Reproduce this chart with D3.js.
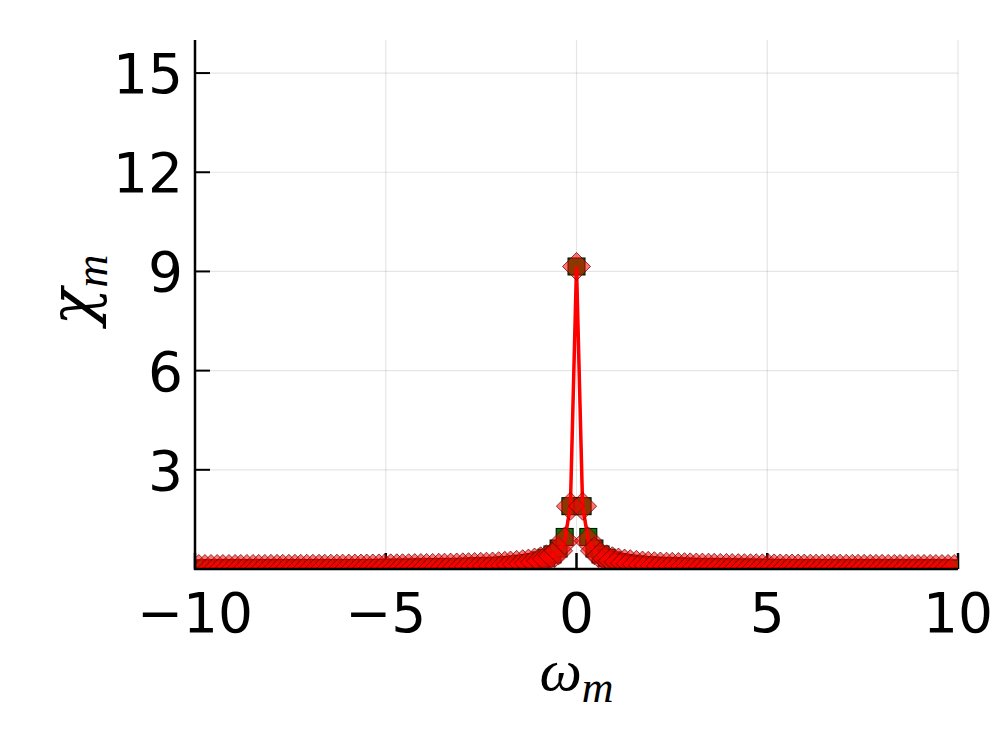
<!DOCTYPE html>
<html><head><meta charset="utf-8">
<script src="https://cdn.jsdelivr.net/npm/d3@7"></script>
<style>body{margin:0;background:#fff}svg{display:block}</style>
</head><body>
<svg id="c" width="997" height="747"></svg>
<script>
// Matsubara frequencies (m = 0 .. 63); negative side mirrors these
const omegaPos = [0,0.16,0.31,0.47,0.63,0.79,0.94,1.10,1.26,1.41,1.57,1.73,1.88,2.04,2.20,2.36,2.51,2.67,2.83,2.98,3.14,3.30,3.46,3.61,3.77,3.93,4.08,4.24,4.40,4.56,4.71,4.87,5.03,5.18,5.34,5.50,5.65,5.81,5.97,6.13,6.28,6.44,6.60,6.75,6.91,7.07,7.23,7.38,7.54,7.70,7.85,8.01,8.17,8.33,8.48,8.64,8.80,8.95,9.11,9.27,9.42,9.58,9.74,9.90];
const chiGreenPos = [9.15,1.90,0.97,0.62,0.44,0.34,0.26,0.21,0.18,0.16,0.14,0.12,0.11,0.10,0.09,0.085,0.08,0.075,0.07,0.065,0.06,0.057,0.054,0.051,0.048,0.046,0.044,0.042,0.040,0.038,0.036,0.035,0.034,0.032,0.031,0.030,0.029,0.028,0.027,0.026,0.025,0.025,0.024,0.023,0.023,0.022,0.021,0.021,0.020,0.020,0.019,0.019,0.018,0.018,0.017,0.017,0.017,0.016,0.016,0.016,0.015,0.015,0.015,0.014];
const chiRedPos = [9.15,1.90,0.85,0.55,0.40,0.31,0.25,0.21,0.18,0.16,0.14,0.12,0.11,0.10,0.09,0.085,0.08,0.075,0.07,0.065,0.06,0.057,0.054,0.051,0.048,0.046,0.044,0.042,0.040,0.038,0.036,0.035,0.034,0.032,0.031,0.030,0.029,0.028,0.027,0.026,0.025,0.025,0.024,0.023,0.023,0.022,0.021,0.021,0.020,0.020,0.019,0.019,0.018,0.018,0.017,0.017,0.017,0.016,0.016,0.016,0.015,0.015,0.015,0.014];
const xTicks = [-10,-5,0,5,10];
const xTickLabels = ["\u221210","\u22125","0","5","10"];
const yTicks = [3,6,9,12,15];
const yTickLabels = ["3","6","9","12","15"];

function mirror(xs, ys){
  const out=[];
  for(let i=xs.length-1;i>0;i--) out.push([-xs[i], ys[i]]);
  for(let i=0;i<xs.length;i++) out.push([xs[i], ys[i]]);
  return out;
}
const green = mirror(omegaPos, chiGreenPos);
const red = mirror(omegaPos, chiRedPos);

const L=195, R=958, T=40, B=569;
const svg=d3.select("#c");
const x=d3.scaleLinear().domain([-10,10]).range([L,R]);
const y=d3.scaleLinear().domain([0,16]).range([B,T]);

svg.append("defs").append("clipPath").attr("id","clip")
  .append("rect").attr("x",L).attr("y",T).attr("width",R-L).attr("height",B-T);

// grid
const g=svg.append("g");
g.selectAll(".gx").data(xTicks).join("line")
  .attr("x1",d=>x(d)).attr("x2",d=>x(d)).attr("y1",T).attr("y2",B)
  .attr("stroke","#000").attr("stroke-opacity",0.1).attr("stroke-width",1.2);
g.selectAll(".gy").data(yTicks).join("line")
  .attr("y1",d=>y(d)).attr("y2",d=>y(d)).attr("x1",L).attr("x2",R)
  .attr("stroke","#000").attr("stroke-opacity",0.1).attr("stroke-width",1.2);

// ticks
g.selectAll(".tx").data(xTicks).join("line")
  .attr("x1",d=>x(d)).attr("x2",d=>x(d)).attr("y1",B).attr("y2",B-16)
  .attr("stroke","#000").attr("stroke-width",2.5);
g.selectAll(".ty").data(yTicks).join("line")
  .attr("y1",d=>y(d)).attr("y2",d=>y(d)).attr("x1",L).attr("x2",L+15)
  .attr("stroke","#000").attr("stroke-width",2);

// series
const plot=svg.append("g").attr("clip-path","url(#clip)");
const line=d3.line().x(d=>x(d[0])).y(d=>y(d[1]));
plot.append("path").datum(green).attr("d",line).attr("fill","none")
  .attr("stroke","#000").attr("stroke-width",2);
const sq=8.5;
plot.selectAll(".sq").data(green).join("rect")
  .attr("x",d=>x(d[0])-sq).attr("y",d=>y(d[1])-sq).attr("width",2*sq).attr("height",2*sq)
  .attr("fill","#007a00").attr("stroke","#000").attr("stroke-width",1);
plot.append("path").datum(red).attr("d",line).attr("fill","none")
  .attr("stroke","#ff0000").attr("stroke-width",3.5);
const dm=14;
plot.selectAll(".dm").data(red).join("path")
  .attr("d",d=>{const cx=x(d[0]),cy=y(d[1]);return `M${cx},${cy-dm}L${cx+dm},${cy}L${cx},${cy+dm}L${cx-dm},${cy}Z`;})
  .attr("fill","#ff0000").attr("fill-opacity",0.55)
  .attr("stroke","#6b0000").attr("stroke-opacity",0.75).attr("stroke-width",1);

// axis lines
svg.append("line").attr("x1",L).attr("x2",L).attr("y1",T).attr("y2",B+1)
  .attr("stroke","#000").attr("stroke-width",2.5);
svg.append("line").attr("x1",L-1).attr("x2",R).attr("y1",B).attr("y2",B)
  .attr("stroke","#000").attr("stroke-width",2.5);

// tick labels
const font="DejaVu Sans, sans-serif";
svg.selectAll(".lx").data(xTicks).join("text")
  .attr("x",d=>x(d)).attr("y",B+63).attr("text-anchor","middle")
  .attr("font-family",font).attr("font-size",55).text((d,i)=>xTickLabels[i]);
svg.selectAll(".ly").data(yTicks).join("text")
  .attr("x",L-12).attr("y",d=>y(d)+20).attr("text-anchor","end")
  .attr("font-family",font).attr("font-size",55).text((d,i)=>yTickLabels[i]);

// axis titles
const serif="Liberation Serif, DejaVu Serif, serif";
const xt=svg.append("text").attr("x",x(0)).attr("y",690).attr("text-anchor","middle")
  .attr("font-family",serif).attr("font-style","italic").attr("font-size",60);
xt.append("tspan").text("\u03c9");
xt.append("tspan").attr("font-size",44).attr("dy",12).text("m");
const yt=svg.append("text").attr("transform","translate(93,290) rotate(-90)").attr("text-anchor","middle")
  .attr("font-family","DejaVu Serif, serif").attr("font-style","italic").attr("font-size",62);
yt.append("tspan").text("\u03c7");
yt.append("tspan").attr("font-family",serif).attr("font-size",46).attr("dy",14).text("m");
</script>
</body></html>
